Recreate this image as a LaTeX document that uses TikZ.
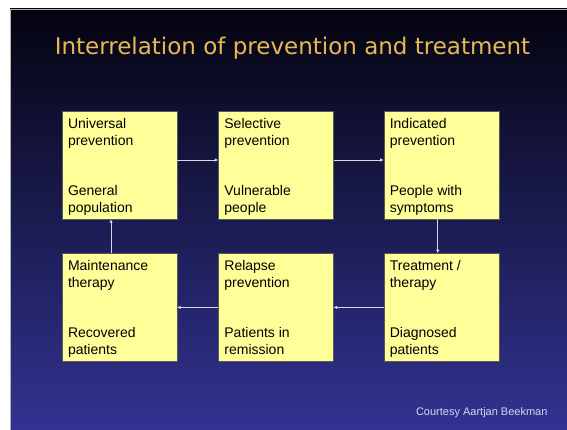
\documentclass[tikz,border=0pt]{standalone}
\usepackage{fontspec}
\setmainfont{Liberation Sans}
\newfontfamily\titlefont{DejaVu Sans}
\usetikzlibrary{positioning, arrows.meta}
\definecolor{slidetop}{RGB}{4,4,16}
\definecolor{slidemid}{RGB}{26,26,90}
\definecolor{slidebot}{RGB}{50,51,145}
\definecolor{cardfill}{RGB}{255,255,153}
\definecolor{titlegold}{RGB}{232,184,82}
\definecolor{flowline}{RGB}{215,215,235}
\tikzset{
  % Stage boxes
  card/.style={
    draw=black!65, fill=cardfill,
    minimum width=115pt, minimum height=108pt
  },
  % Text inside a stage box
  cardtext/.style={
    align=left, inner sep=0pt,
    font=\fontsize{14}{17}\selectfont
  },
  % Connecting arrows
  flow/.style={
    -{Latex[length=3.5pt,width=3.5pt]}, draw=flowline, line width=0.8pt
  },
}
\newcommand{\stagetext}[3]{%
  \node[cardtext, below right=7pt and 6pt of #1.north west] (#1txt) {#2\\[33pt]#3};
}

\begin{document}
\begin{tikzpicture}[x=1pt, y=-1pt]

  %% ── Slide background ──
  \useasboundingbox (0,0) rectangle (567,430);
  \fill[white] (0,0) rectangle (567,430);
  \shade[top color=slidetop, middle color=slidemid, bottom color=slidebot]
    (10,9) rectangle (567,430);
  \draw[black!30, line width=0.6pt] (10,430) -- (10,9) -- (567,9);

  %% ── Title ──
  \node[anchor=base, text=titlegold, font=\titlefont\fontsize{23}{27}\selectfont]
    (title) at (292.5,55) {Interrelation of prevention and treatment};

  %% ── Stages ──
  \node[card] (univ) at (119.5,165) {};
  \node[card, right=41pt of univ]  (selct) {};
  \node[card, right=50pt of selct] (indic) {};
  \node[card, below=34pt of indic] (treat) {};
  \node[card, below=34pt of selct] (relap) {};
  \node[card, below=34pt of univ]  (maint) {};

  \stagetext{univ}{Universal\\prevention}{General\\population}
  \stagetext{selct}{Selective\\prevention}{Vulnerable\\people}
  \stagetext{indic}{Indicated\\prevention}{People with\\symptoms}
  \stagetext{treat}{Treatment /\\therapy}{Diagnosed\\patients}
  \stagetext{relap}{Relapse\\prevention}{Patients in\\remission}
  \stagetext{maint}{Maintenance\\therapy}{Recovered\\patients}

  %% ── Flow ──
  \draw[flow] ([yshift=5pt]univ.east) -- ([yshift=5pt]selct.west);
  \draw[flow] ([yshift=5pt]selct.east) -- ([yshift=5pt]indic.west);
  \draw[flow] ([xshift=-3.5pt]indic.south) -- ([xshift=-3.5pt]treat.north);
  \draw[flow] (treat.west) -- (relap.east);
  \draw[flow] (relap.west) -- (maint.east);
  \draw[flow] ([xshift=-8.5pt]maint.north) -- ([xshift=-8.5pt]univ.south);

  %% ── Credit ──
  \node[anchor=base east, text=flowline, font=\fontsize{11}{13}\selectfont]
    (credit) at (551,415) {Courtesy Aartjan Beekman};

\end{tikzpicture}
\end{document}
